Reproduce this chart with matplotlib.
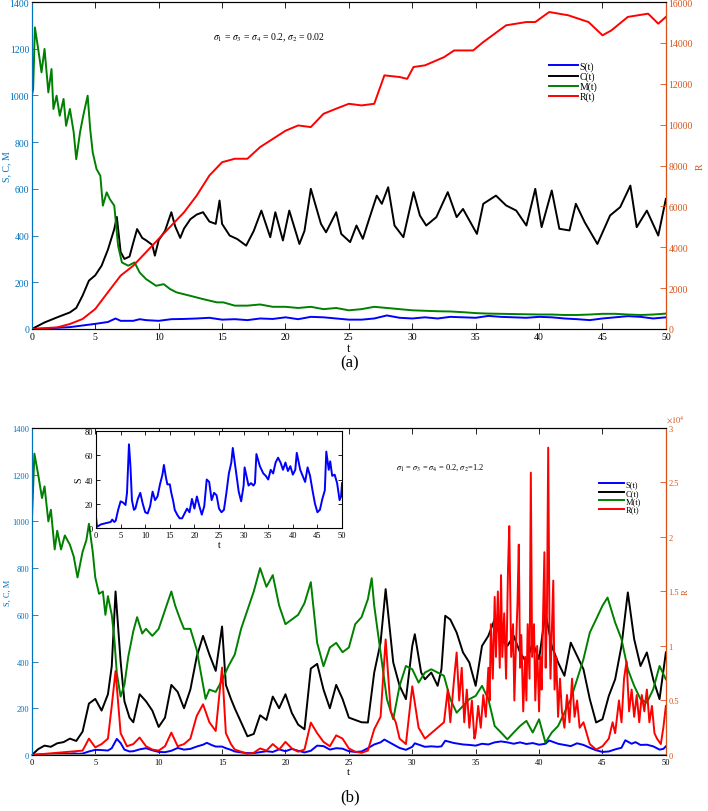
import numpy as np
import matplotlib
matplotlib.use("Agg")
import matplotlib.pyplot as plt
from matplotlib.ticker import FuncFormatter

plt.rcParams['font.family'] = ['Liberation Serif', 'DejaVu Serif']
plt.rcParams['mathtext.fontset'] = 'stix'

# ---------------- panel (a): sigma2 = 0.02 ----------------
tS_a = [0, 1, 2, 3, 4, 5, 6, 6.6, 7, 8, 8.5, 9, 10, 11, 12, 13, 14, 15, 16, 17, 18, 19, 20, 21, 22,
        23, 24, 25, 26, 27, 28, 29, 30, 31, 32, 33, 34, 35, 36, 37, 38, 39, 40, 41, 42, 43, 44, 45,
        46, 47, 48, 49, 50]
S_a = [0, 2, 5, 8, 15, 22, 30, 45, 35, 35, 42, 38, 35, 42, 43, 45, 48, 40, 42, 38, 45, 43, 50, 42, 52,
       50, 45, 40, 40, 45, 58, 48, 45, 50, 45, 52, 50, 48, 56, 52, 50, 48, 52, 50, 45, 42, 38, 45,
       50, 55, 52, 45, 50]

tC_a = [0, 1, 2, 3, 3.5, 4, 4.5, 5, 5.5, 6, 6.5, 6.7, 7, 7.3, 7.7, 8, 8.3, 8.7, 9, 9.5, 9.7, 10,
        10.5, 11, 11.3, 11.7, 12, 12.5, 13, 13.5, 14, 14.5, 14.8, 15, 15.6, 16.2, 16.9, 17.5, 18.1,
        18.8, 19.2, 19.8, 20.3, 21.1, 21.5, 22.0, 22.8, 23.2, 24.0, 24.4, 25.1, 25.6, 26.1, 26.6,
        27.2, 27.6, 28.1, 28.6, 29.3, 30.1, 30.6, 31.1, 31.9, 32.8, 33.5, 34.0, 35.1, 35.6, 36.6,
        37.4, 38.2, 39.0, 39.7, 40.2, 41.0, 41.6, 42.4, 42.9, 43.6, 44.6, 45.6, 46.4, 47.2, 47.7,
        48.5, 49.4, 50.0]
C_a = [0, 28, 50, 71, 90, 143, 207, 230, 271, 340, 428, 480, 330, 300, 310, 370, 428, 390, 380, 360,
       314, 380, 420, 500, 440, 390, 430, 470, 490, 500, 460, 450, 550, 450, 400, 385, 357, 420, 507,
       393, 500, 379, 507, 364, 420, 600, 450, 414, 500, 407, 372, 443, 386, 471, 571, 536, 607,
       443, 393, 586, 486, 443, 479, 586, 479, 514, 407, 536, 571, 529, 507, 443, 600, 436, 593,
       429, 422, 536, 457, 364, 486, 522, 614, 436, 507, 400, 557]

tM_a = [0, 0.1, 0.24, 0.5, 0.76, 1.0, 1.3, 1.55, 1.7, 1.95, 2.2, 2.5, 2.7, 3.0, 3.3, 3.5, 3.8, 4.05,
        4.4, 4.6, 4.8, 5.1, 5.4, 5.6, 5.9, 6.15, 6.5, 6.8, 7.1, 7.6, 8.1, 8.5, 9.0, 9.8, 10.4, 10.9,
        11.4, 12.5, 13.5, 14.6, 15.1, 16, 17, 18, 19, 20, 21, 22, 23, 24, 25, 26, 27, 28, 29, 30,
        31, 32, 33, 34, 35, 36, 37, 38, 39, 40, 41, 42, 43, 44, 45, 46, 47, 48, 49, 50]
M_a = [1000, 1026, 1291, 1199, 1099, 1199, 1013, 1113, 942, 999, 913, 985, 870, 942, 842, 727, 842,
       913, 999, 856, 756, 685, 656, 528, 585, 556, 528, 357, 285, 271, 285, 242, 214, 185, 192,
       171, 157, 142, 128, 114, 114, 100, 100, 105, 95, 95, 90, 95, 85, 90, 80, 85, 95, 90, 85, 80,
       78, 76, 75, 72, 68, 66, 65, 64, 63, 62, 62, 60, 60, 62, 65, 65, 62, 60, 62, 66]

tR_a = [0, 2, 3, 4, 5, 6, 7, 8, 9, 10, 11, 12, 13, 14, 15, 16, 17, 18, 19, 20, 21, 22, 23, 24, 25,
        26, 27, 27.8, 29, 29.6, 30.1, 31, 32.5, 33.3, 34.8, 35.6, 37.4, 39, 39.7, 40.8, 42.3, 43.9,
        45, 45.7, 47, 48.6, 49.4, 50]
R_a = [0, 80, 245, 490, 980, 1800, 2610, 3100, 3755, 4410, 5060, 5710, 6530, 7510, 8160, 8330, 8330,
       8900, 9300, 9700, 9960, 9880, 10530, 10780, 11020, 10940, 11020, 12410, 12330, 12240, 12820,
       12900, 13300, 13630, 13630, 14040, 14860, 15020, 15020, 15510, 15350, 15020, 14370, 14610,
       15270, 15430, 14940, 15270]

# ---------------- panel (b): sigma2 = 1.2 ----------------
tS_b = [0, 0.2, 1, 2, 3, 3.3, 3.7, 4, 4.5, 5, 5.5, 6, 6.3, 6.7, 7, 7.3, 7.7, 8, 8.5, 9, 9.5, 10,
        10.5, 11, 11.5, 12, 12.5, 13, 13.5, 13.8, 14.2, 14.5, 15, 15.3, 15.7, 16, 16.5, 17, 17.5,
        18, 18.5, 19, 19.5, 20, 20.5, 21, 21.5, 22, 22.5, 23, 23.5, 24, 24.5, 25, 25.5, 26, 26.5,
        27, 27.5, 27.8, 28.5, 29, 29.5, 30, 30.2, 31, 31.5, 32, 32.3, 32.6, 33.3, 34, 34.5, 35,
        35.5, 36, 36.5, 37, 37.5, 38, 38.5, 39, 39.5, 40, 40.5, 40.8, 41.5, 42, 42.5, 43, 43.5, 44,
        44.5, 45, 45.5, 46, 46.5, 46.8, 47.3, 47.6, 48, 48.5, 49, 49.5, 49.8, 50]
S_b = [9, 1, 3, 4, 5, 7, 5, 6, 15, 22, 21, 19, 29, 69, 51, 23, 15, 16, 24, 29, 20, 13, 12, 18, 30,
       23, 26, 36, 44, 52, 42, 36, 36, 29, 22, 15, 11, 8, 8, 12, 16, 13, 24, 16, 26, 18, 11, 18, 40,
       38, 23, 29, 27, 16, 13, 15, 29, 45, 54, 66, 45, 30, 22, 35, 50, 35, 37, 35, 37, 61, 51, 45,
       43, 40, 48, 45, 54, 58, 54, 48, 54, 47, 51, 44, 48, 62, 48, 43, 38, 50, 43, 31, 20, 13, 15,
       24, 31, 63, 48, 55, 43, 44, 37, 23, 26, 37]

tC_b = [0, 0.5, 1, 1.5, 2, 2.5, 3, 3.5, 4, 4.5, 5, 5.5, 6, 6.3, 6.6, 7, 7.3, 7.7, 8, 8.5, 9, 9.5, 10,
        10.5, 11, 11.5, 12, 12.5, 13, 13.5, 14, 14.5, 15, 15.3, 15.7, 16, 16.5, 17, 17.5, 18, 18.5,
        19, 19.5, 20, 20.5, 21, 21.5, 22, 22.5, 23, 23.5, 24, 24.5, 25, 25.5, 26, 26.5, 27, 27.5,
        27.9, 28.5, 29, 29.5, 30, 30.2, 30.7, 31, 31.5, 32, 32.3, 32.6, 33, 33.5, 34, 34.5, 35,
        35.5, 36, 36.5, 37, 37.5, 38, 38.5, 39, 39.5, 40, 40.5, 41, 41.5, 42, 42.5, 43, 43.5, 44,
        44.5, 45, 45.5, 46, 46.5, 47, 47.5, 48, 48.5, 49, 49.5, 50]
C_b = [0, 25, 40, 35, 50, 55, 70, 60, 100, 220, 240, 190, 260, 380, 700, 400, 230, 160, 140, 260,
       230, 190, 120, 160, 300, 270, 200, 280, 420, 510, 430, 360, 550, 300, 240, 200, 140, 80, 90,
       170, 150, 250, 200, 260, 180, 130, 110, 370, 390, 280, 200, 300, 240, 160, 150, 140, 139,
       353, 481, 710, 396, 296, 239, 467, 517, 353, 324, 353, 296, 367, 596, 580, 524, 439, 396,
       296, 467, 510, 581, 496, 467, 510, 439, 396, 481, 410, 610, 467, 396, 339, 481, 424, 367,
       239, 139, 153, 253, 324, 467, 696, 496, 381, 439, 324, 239, 439]

tM_b = [0, 0.2, 0.5, 0.8, 1, 1.3, 1.5, 1.8, 2, 2.3, 2.6, 3, 3.3, 3.6, 4, 4.3, 4.5, 4.8, 5, 5.3, 5.6,
        5.8, 6, 6.3, 6.5, 6.7, 7, 7.3, 7.6, 8, 8.3, 8.7, 9, 9.5, 10, 10.5, 11, 11.3, 11.7, 12, 12.5,
        13, 13.5, 13.7, 14, 14.5, 15, 15.5, 16, 16.5, 17, 17.5, 18, 18.5, 19, 19.5, 20, 20.5, 21,
        21.5, 22, 22.5, 23, 23.5, 24, 24.5, 25, 25.5, 26, 26.5, 26.8, 27, 27.5, 28, 28.5, 29, 29.5,
        30, 30.5, 31, 31.5, 32, 32.5, 33, 33.5, 34, 34.5, 35, 35.5, 36, 36.5, 37, 37.5, 38, 38.5,
        39, 39.5, 40, 40.5, 41, 41.5, 42, 42.5, 43, 43.5, 44, 44.5, 45, 45.4, 46, 46.5, 47, 47.5,
        48, 48.5, 49, 49.5, 50]
M_b = [1000, 1290, 1200, 1100, 1150, 1000, 1050, 880, 960, 880, 940, 900, 850, 760, 870, 920, 990,
       870, 760, 690, 700, 600, 680, 600, 500, 350, 250, 300, 420, 530, 590, 520, 540, 510, 540,
       620, 700, 640, 580, 540, 540, 450, 300, 240, 280, 270, 320, 380, 430, 540, 620, 700, 800,
       720, 770, 640, 560, 580, 600, 650, 740, 480, 380, 460, 480, 440, 460, 560, 590, 667, 757,
       639, 439, 239, 153, 296, 381, 367, 310, 353, 367, 353, 339, 239, 181, 210, 239, 253, 296,
       239, 124, 96, 67, 96, 124, 146, 96, 153, 53, 96, 124, 181, 239, 324, 410, 524, 581, 639,
       674, 567, 496, 367, 296, 239, 224, 281, 381, 324]

tR_b = [0, 1, 2, 3, 4, 4.5, 5, 5.5, 6, 6.3, 6.6, 7, 7.5, 8, 8.5, 9, 9.5, 10, 10.5, 11, 11.5, 12,
        12.5, 13, 13.5, 14, 14.5, 15, 15.3, 15.7, 16, 16.5, 17, 17.5, 18, 18.5, 19, 19.5, 20, 20.5,
        21, 21.5, 22, 22.5, 23, 23.5, 24, 24.5, 25, 25.5, 26, 26.5, 27, 27.5, 27.9, 28.3, 28.7, 29,
        29.5, 30, 30.5, 31, 31.5, 32, 32.5, 32.8, 33.0, 33.3, 33.5, 33.7, 33.9, 34.1, 34.3, 34.5,
        34.7, 34.9, 35.0, 35.2, 35.4, 35.6, 35.8, 36.0, 36.1, 36.2, 36.35, 36.5, 36.6, 36.75, 36.9,
        37.0, 37.1, 37.25, 37.4, 37.55, 37.65, 37.8, 37.95, 38.05, 38.15, 38.3, 38.4, 38.5, 38.6,
        38.75, 38.9, 39.0, 39.1, 39.25, 39.35, 39.45, 39.6, 39.7, 39.85, 40.0, 40.1, 40.2, 40.3,
        40.42, 40.52, 40.62, 40.72, 40.82, 40.9, 41.0, 41.12, 41.22, 41.35, 41.5, 41.65, 41.8, 42.0,
        42.2, 42.4, 42.6, 42.8, 43.0, 43.2, 43.5, 44, 44.5, 45, 45.5, 45.8, 46.0, 46.3, 46.5, 46.7,
        46.9, 47.1, 47.3, 47.5, 47.7, 47.9, 48.1, 48.3, 48.5, 48.7, 48.9, 49.1, 49.3, 49.6, 49.8, 50]
R_b = [0, 100, 200, 300, 400, 1500, 700, 1000, 1500, 4500, 7700, 2000, 800, 1000, 1600, 800, 500,
       400, 800, 2050, 800, 1000, 1500, 3580, 4650, 3000, 2200, 8020, 2000, 1000, 500, 300, 100,
       200, 600, 400, 1000, 500, 1200, 600, 300, 500, 2970, 2000, 1200, 800, 1800, 1500, 600, 300,
       200, 400, 2360, 3500, 10600, 4000, 3000, 1500, 1000, 6300, 2500, 1500, 2000, 2500, 3000,
       6000, 3000, 7000, 9400, 5000, 8000, 3000, 6000, 2500, 5000, 1500, 2000, 4500, 2500, 5500,
       3500, 8000, 5000, 12000, 7000, 14500, 9000, 15000, 8000, 16500, 9000, 13000, 7000, 17000,
       21000, 9000, 12000, 5000, 9000, 14000, 19300, 8000, 11000, 4000, 9000, 5000, 12000, 7000,
       25900, 9000, 12000, 5000, 10000, 4000, 9000, 6000, 12000, 18600, 8000, 13000, 28200, 12000,
       7000, 11000, 16000, 6000, 9000, 3500, 7000, 4000, 2500, 5500, 3000, 7000, 3500, 5000, 2500,
       3000, 1000, 500, 800, 1500, 3000, 2000, 5000, 3000, 7000, 8600, 4000, 6000, 3500, 5500,
       3000, 5500, 4000, 6000, 3000, 4500, 2000, 1500, 1000, 2500, 4500]

sc_color = '#0072BD'
r_color = '#D95319'
xt = np.arange(0, 51, 5)


def panel(rect, tS, S, tC, C, tM, M, tR, R, rmax, rstep, note, note_xy, leg_xy, fs):
    ax = fig.add_axes(rect)
    ax.plot(tS, S, color='blue', lw=1.4, label='S(t)')
    ax.plot(tC, C, color='black', lw=1.4, label='C(t)')
    ax.plot(tM, M, color='green', lw=1.4, label='M(t)')
    ax.set_xlim(0, 50)
    ax.set_ylim(0, 1400)
    ax.set_xticks(xt)
    ax.set_yticks(np.arange(0, 1401, 200))
    ax.tick_params(direction='in', labelsize=fs, top=True, length=4, width=0.6, pad=2)
    ax.tick_params(axis='y', colors=sc_color)
    ax.spines['left'].set_color(sc_color)
    ax.set_ylabel('S, C, M', color=sc_color, fontsize=fs)
    ax.yaxis.set_label_coords(-0.032, 0.5)
    ax.set_xlabel('t', fontsize=fs + 2, labelpad=1)

    ax2 = ax.twinx()
    ax2.plot(tR, R, color='red', lw=1.4, label='R(t)')
    ax2.set_ylim(0, rmax)
    ax2.set_yticks(np.arange(0, rmax + 1, rstep))
    ax2.tick_params(direction='in', labelsize=fs, colors=r_color, length=4, width=0.6, pad=2)
    ax2.spines['right'].set_color(r_color)
    ax2.spines['left'].set_color(sc_color)
    ax2.set_ylabel('R', color=r_color, fontsize=fs, labelpad=2)

    ax.text(note_xy[0], note_xy[1], note, transform=ax.transAxes, fontsize=fs, va='center')
    h1, l1 = ax.get_legend_handles_labels()
    h2, l2 = ax2.get_legend_handles_labels()
    ax2.legend(h1 + h2, l1 + l2, loc='upper left', bbox_to_anchor=leg_xy, frameon=False,
               fontsize=fs, handlelength=3, handletextpad=0.1, labelspacing=0.05,
               borderaxespad=0)
    return ax, ax2


fig = plt.figure(figsize=(7.08, 8.12), dpi=100)

ax_a, ax_a2 = panel([0.045, 0.5936, 0.8955, 0.4027], tS_a, S_a, tC_a, C_a, tM_a, M_a, tR_a, R_a,
                    16000, 2000, r'$\sigma_1$ = $\sigma_3$ = $\sigma_4$ = 0.2, $\sigma_2$ = 0.02',
                    (0.285, 0.893), (0.81, 0.83), 7)

ax_b, ax_b2 = panel([0.045, 0.069, 0.8955, 0.4027], tS_b, S_b, tC_b, C_b, tM_b, M_b, tR_b, R_b,
                    30000, 5000, r'$\sigma_1$ = $\sigma_3$ = $\sigma_4$ = 0.2, $\sigma_2$=1.2',
                    (0.575, 0.88), (0.89, 0.85), 6)
ax_b2.yaxis.set_major_formatter(FuncFormatter(lambda v, p: f'{v / 1e4:g}'))
ax_b2.text(1.0, 1.02, r'$\times10^4$', transform=ax_b2.transAxes, color=r_color, fontsize=6)
ax_b.spines['bottom'].set_color('#888888')
ax_b.spines['bottom'].set_linewidth(1.5)

# inset with S(t) of panel (b)
ins = fig.add_axes([0.1356, 0.3485, 0.3475, 0.1195])
ins.plot(tS_b, S_b, color='blue', lw=1.4)
ins.set_xlim(0, 50)
ins.set_ylim(0, 80)
ins.set_xticks(xt)
ins.set_yticks(np.arange(0, 81, 20))
ins.tick_params(direction='in', labelsize=6, top=True, right=True, length=3, width=0.6, pad=2)
ins.set_xlabel('t', fontsize=7, labelpad=1)
ins.set_ylabel('S', fontsize=7, labelpad=1)

fig.text(0.494, 0.552, '(a)', fontsize=12, ha='center', va='center')
fig.text(0.494, 0.018, '(b)', fontsize=12, ha='center', va='center')

fig.savefig('out.png', dpi=100)
